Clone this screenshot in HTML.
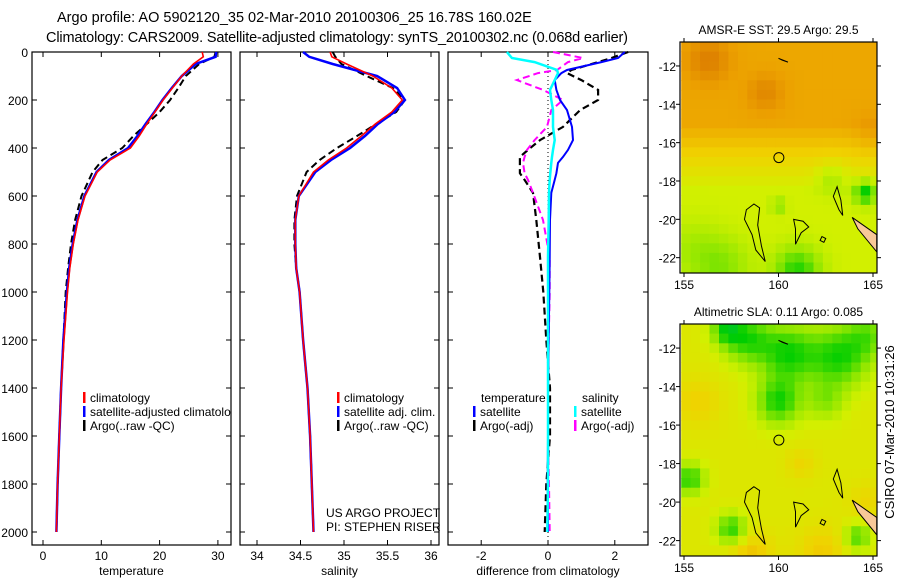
<!DOCTYPE html>
<html><head><meta charset="utf-8">
<style>
html,body{margin:0;padding:0;background:#fff;}
svg{display:block;font-family:"Liberation Sans",sans-serif;}
text{fill:#000;}
</style></head>
<body>
<svg id="fig" width="900" height="580" viewBox="0 0 900 580">
<text x="57" y="22" font-size="14.5">Argo profile: AO 5902120_35 02-Mar-2010 20100306_25 16.78S 160.02E</text>
<text x="46" y="42" font-size="14.5" textLength="582">Climatology: CARS2009. Satellite-adjusted climatology: synTS_20100302.nc (0.068d earlier)</text>
<g id="p1"></g>
<g id="p2"></g>
<g id="p3"></g>
<g id="m1"></g>
<g id="m2"></g>
<text transform="translate(894,432) rotate(-90)" font-size="13" text-anchor="middle">CSIRO 07-Mar-2010 10:31:26</text>
</svg>
<script>
// ---- data ----
const depths = [0,20,50,100,150,200,250,300,350,400,450,500,600,700,800,900,1000,1200,1400,1600,1800,2000];
const tempClim = [27.3,27.5,25.8,23.8,22.2,20.6,19.2,17.8,16.5,15.0,11.5,9.3,7.2,6.0,5.2,4.6,4.2,3.6,3.1,2.8,2.5,2.3];
const tempSat  = [29.7,29.6,26.2,23.8,22.1,20.5,19.1,17.6,16.2,14.6,11.3,9.2,7.1,5.9,5.1,4.5,4.1,3.5,3.1,2.8,2.5,2.3];
const tempArgo = [29.6,29.4,26.8,24.5,23.2,21.8,20.0,17.8,15.5,13.6,10.2,8.5,6.6,5.5,4.8,4.3,3.9,3.5,3.1,2.8,2.5,2.3];
const salClim = [34.84,34.86,35.03,35.33,35.55,35.67,35.55,35.36,35.2,35.03,34.82,34.65,34.48,34.44,34.44,34.45,34.49,34.53,34.58,34.61,34.63,34.65];
const salSat  = [34.53,34.6,34.87,35.38,35.61,35.70,35.58,35.39,35.24,35.07,34.85,34.67,34.48,34.44,34.44,34.45,34.49,34.53,34.58,34.61,34.63,34.65];
const salArgo = [34.87,34.9,34.97,35.26,35.56,35.70,35.6,35.37,35.15,34.92,34.72,34.57,34.46,34.43,34.43,34.45,34.49,34.53,34.58,34.61,34.63,34.65];
const diffDepths = [0,25,42,75,88,117,158,200,242,312,367,408,437,462,505,533,587,700,854,1000,1200,1400,1600,1800,2000];
const dTempSat  = [2.3,2.1,1.6,0.57,0.4,0.2,0.25,0.36,0.57,0.72,0.75,0.6,0.45,0.3,0.25,0.2,0.1,0.06,0.05,0.04,0.02,0.0,0.0,-0.01,0.0];
const dTempArgo = [2.4,1.9,1.5,0.7,0.57,1.0,1.5,1.5,0.96,0.45,-0.24,-0.6,-0.84,-0.84,-0.84,-0.7,-0.45,-0.35,-0.24,-0.14,-0.05,0.06,0.06,-0.05,-0.1];
const dSalSat   = [-1.23,-1.08,-0.4,0.27,0.3,0.2,0.06,0.1,0.15,0.15,0.2,0.15,0.12,0.1,0.07,0.05,0.03,0.02,0.0,0.0,0.0,0.0,0.0,0.0,-0.02];
const dSalArgo  = [0.15,1.05,0.6,0.27,-0.3,-0.93,-0.15,0.45,0.1,-0.03,-0.4,-0.63,-0.7,-0.75,-0.7,-0.6,-0.45,-0.15,0.05,0.05,0.02,0.0,0.0,0.03,0.05];
const depthTicks = [0,200,400,600,800,1000,1200,1400,1600,1800,2000];
const tempTicks = [0,10,20,30];
const salTicks = [34,34.5,35,35.5,36];
const diffTicks = [-2,0,2];
const lonTicks = [155,160,165];
const latTicks = [-12,-14,-16,-18,-20,-22];

const NS="http://www.w3.org/2000/svg";
function el(parent,tag,attrs){const e=document.createElementNS(NS,tag);for(const k in attrs)e.setAttribute(k,attrs[k]);parent.appendChild(e);return e;}
const yD = d => 52 + d*0.24;
const PT=52, PB=545;

function panel(g,x0,x1,xs,ticks,label,xlab,showY){
  const r=el(g,'rect',{x:x0,y:PT,width:x1-x0,height:PB-PT,fill:'#fff',stroke:'#000','stroke-width':1.2});
  
  
  ticks.forEach(t=>{
    const X=xs(t);
    el(g,'line',{x1:X,y1:PB,x2:X,y2:PB-5,stroke:'#000'});
    el(g,'line',{x1:X,y1:PT,x2:X,y2:PT+5,stroke:'#000'});
    const tx=el(g,'text',{x:X,y:PB+15,'font-size':12,'text-anchor':'middle'});tx.textContent=String(t);
    
    
  });
  depthTicks.forEach(d=>{
    el(g,'line',{x1:x0,y1:yD(d),x2:x0+5,y2:yD(d),stroke:'#000'});
    el(g,'line',{x1:x1,y1:yD(d),x2:x1-5,y2:yD(d),stroke:'#000'});
    if(showY){const t=el(g,'text',{x:x0-4,y:yD(d)+5,'font-size':12,'text-anchor':'end'});t.textContent=String(d);
      
      }
  });
  const xl=el(g,'text',{x:(x0+x1)/2,y:575,'font-size':12,'text-anchor':'middle'});xl.textContent=xlab;
  
  
}
function line(g,xs,vals,ds,color,w,dash,name){
  const pts=vals.map((v,i)=>xs(v).toFixed(1)+','+yD(ds[i]).toFixed(1)).join(' ');
  const p=el(g,'polyline',{points:pts,fill:'none',stroke:color,'stroke-width':w});
  if(dash)p.setAttribute('stroke-dasharray',dash);
  
  
}
function legend(g,x,y,color,txt,name){
  el(g,'rect',{x:x,y:y-10,width:2.5,height:11,fill:color});
  const t=el(g,'text',{x:x+7,y:y,'font-size':12});t.textContent=txt;
  
  
}
function txt(g,x,y,s,name,anchor){const t=el(g,'text',{x:x,y:y,'font-size':12,'text-anchor':anchor||'start'});t.textContent=s;
  
  return t;}

// Panel 1
const p1=document.getElementById('p1');
const xT=v=>43+v*5.83;
panel(p1,32,231,xT,tempTicks,'','temperature',true);
line(p1,xT,tempArgo,depths,'#000',2,'7,4','argo-temperature-line');
line(p1,xT,tempSat,depths,'#0000ff',2.5,null,'satellite-temperature-line');
line(p1,xT,tempClim,depths,'#ff0000',1.6,null,'climatology-temperature-line');
legend(p1,83,402,'#ff0000','climatology','legend-climatology');
legend(p1,83,416,'#0000ff','satellite-adjusted climatolo','legend-satellite-adjusted');
legend(p1,83,430,'#000','Argo(..raw -QC)','legend-argo');

// Panel 2
const p2=document.getElementById('p2');
const xS=v=>257+(v-34)*87;
panel(p2,240,439,xS,salTicks,'','salinity',false);
line(p2,xS,salArgo,depths,'#000',2,'7,4','argo-salinity-line');
line(p2,xS,salSat,depths,'#0000ff',2.5,null,'satellite-salinity-line');
line(p2,xS,salClim,depths,'#ff0000',1.6,null,'climatology-salinity-line');
legend(p2,337,402,'#ff0000','climatology','legend-climatology');
legend(p2,337,416,'#0000ff','satellite adj. clim.','legend-satellite-adjusted');
legend(p2,337,430,'#000','Argo(..raw -QC)','legend-argo');
txt(p2,326,517,'US ARGO PROJECT','project-label');
txt(p2,326,531,'PI: STEPHEN RISER','pi-label');

// Panel 3
const p3=document.getElementById('p3');
const xDf=v=>548+v*33.4;
panel(p3,448,648,xDf,diffTicks,'','difference from climatology',false);
el(p3,'line',{x1:548,y1:PT,x2:548,y2:PB,stroke:'#000','stroke-dasharray':'1,3'});
line(p3,xDf,dTempArgo,diffDepths,'#000',2.2,'7,4','argo-temperature-diff-line');
line(p3,xDf,dSalArgo,diffDepths,'#ff00ff',2,'7,4','argo-salinity-diff-line');
line(p3,xDf,dTempSat,diffDepths,'#0000ff',2,null,'satellite-temperature-diff-line');
line(p3,xDf,dSalSat,diffDepths,'#00ffff',2.5,null,'satellite-salinity-diff-line');
txt(p3,481,402,'temperature','legend-temperature-heading');
txt(p3,582,402,'salinity','legend-salinity-heading');
legend(p3,473,416,'#0000ff','satellite','legend-temp-satellite');
legend(p3,473,430,'#000','Argo(-adj)','legend-temp-argo');
legend(p3,574,416,'#00ffff','satellite','legend-sal-satellite');
legend(p3,574,430,'#ff00ff','Argo(-adj)','legend-sal-argo');

// ---- maps ----
function cmap(v){
  v=Math.max(0,Math.min(1,v));
  const stops=[[0,[0,190,110]],[0.2,[0,205,0]],[0.4,[140,230,0]],[0.55,[210,240,0]],[0.7,[240,210,0]],[0.85,[236,160,0]],[1,[208,100,0]]];
  for(let i=1;i<stops.length;i++){if(v<=stops[i][0]){const a=stops[i-1],b=stops[i],t=(v-a[0])/(b[0]-a[0]);
    return 'rgb('+a[1].map((c,k)=>Math.round(c+(b[1][k]-c)*t)).join(',')+')';}}
}
function gauss(lon,lat,c){const dx=lon-c[0],dy=lat-c[1];return c[3]*Math.exp(-(dx*dx+dy*dy)/(c[2]*c[2]));}
const sstBlobs=[[156.3,-11.7,1.2,0.1],[159.3,-13.4,1.0,0.08],[165,-15.5,1,0.05],[164.6,-18.6,0.6,-0.35],[161,-22.7,1.2,-0.3],[157,-22.5,1.5,-0.15],[162.8,-17.8,0.8,-0.12],[155.5,-21.5,1.5,-0.08],[160,-19.3,0.4,-0.15]];
const slaBlobs=[[158.3,-11.5,1.3,-0.33],[160.5,-12.3,1.5,-0.36],[163.2,-12.5,1.6,-0.36],[164.8,-11.3,1.2,-0.22],[160,-14.8,1.2,-0.36],[162.5,-14.8,1.0,-0.18],[157.2,-11.0,0.8,-0.3],[155.7,-14.8,1.2,0.1],[155.3,-18.8,0.8,-0.35],[157.5,-21.4,0.8,-0.35],[164.2,-21.8,0.7,-0.3],[158.5,-22.8,1.2,0.15],[162.3,-22.6,1.3,0.12],[161.2,-18,0.8,0.08],[164.7,-20,1,0.08]];
const sstBase=lat=>{if(lat>-15)return 0.83;if(lat<-18.5)return 0.55;return 0.55+(lat+18.5)/3.5*0.28;};
const slaBase=lat=>0.6;
const LON0=155-0.15, LON1=165.2, LAT0=-10.75, LAT1=-22.8;
function drawMap(gid,top,bot,title,blobs,base){
  const g=document.getElementById(gid);
  const x0=680,x1=877;
  const xs=l=>684+(l-155)*18.9, ys=la=>top+ (LAT0-la)/(LAT0-LAT1)*(bot-top);
  const step=0.5;
  for(let lon=LON0;lon<LON1;lon+=step){for(let lat=LAT0;lat>LAT1;lat-=step){
    let v=base(lat-step/2);blobs.forEach(b=>v+=gauss(lon+step/2,lat-step/2,b));
    const X=Math.max(x0,xs(lon)),Y=ys(lat);
    el(g,'rect',{x:X.toFixed(1),y:Y.toFixed(1),width:(Math.min(x1,xs(lon+step))-X+0.5).toFixed(1),height:(Math.min(bot,ys(lat-step))-Y+0.5).toFixed(1),fill:cmap(v)});
  }}
  const isl=[[[158.7,-19.2],[158.3,-19.5],[158.2,-20.0],[158.6,-20.8],[158.8,-21.6],[159.3,-22.2],[159.1,-21.4],[158.9,-20.3],[159,-19.4]],
    [[160.8,-20.0],[161.3,-20.1],[161.6,-20.4],[161.2,-20.7],[160.9,-21.3],[160.9,-20.5]],
    [[163.1,-18.3],[162.9,-18.8],[163.2,-19.5],[163.4,-19.8],[163.3,-19.0]],
    [[162.3,-20.9],[162.5,-21.0],[162.4,-21.2],[162.2,-21.1]],
    [[160.0,-11.6],[160.5,-11.8],[160.2,-11.7]]];
  isl.forEach(p=>{const s=el(g,'polygon',{points:p.map(q=>xs(q[0])+','+ys(q[1])).join(' '),fill:'none',stroke:'#000','stroke-width':1});
    
    });
  const nc=el(g,'polygon',{points:[[163.9,-19.9],[165.2,-20.8],[165.2,-21.7],[164.2,-20.5]].map(q=>xs(q[0])+','+ys(q[1])).join(' '),fill:'#f8c898',stroke:'#000','stroke-width':1});
  
  
  const c=el(g,'circle',{cx:xs(160.02),cy:ys(-16.78),r:5,fill:'none',stroke:'#000','stroke-width':1});
  
  
  el(g,'rect',{x:x0,y:top,width:x1-x0,height:bot-top,fill:'none',stroke:'#000','stroke-width':1.2});
  lonTicks.forEach(l=>{el(g,'line',{x1:xs(l),y1:bot,x2:xs(l),y2:bot+4,stroke:'#000'});el(g,'line',{x1:xs(l),y1:top,x2:xs(l),y2:top-4,stroke:'#000'});
    txt(g,xs(l),bot+16,String(l),'lon-tick-label','middle');});
  latTicks.forEach(la=>{el(g,'line',{x1:x0,y1:ys(la),x2:x0-4,y2:ys(la),stroke:'#000'});el(g,'line',{x1:x1,y1:ys(la),x2:x1+4,y2:ys(la),stroke:'#000'});
    txt(g,x0-4,ys(la)+5,String(la),'lat-tick-label','end');});
  txt(g,(x0+x1)/2,top-8,title,'map-title','middle');
}
drawMap('m1',42,273,'AMSR-E SST: 29.5 Argo: 29.5',sstBlobs,sstBase);
drawMap('m2',324,556,'Altimetric SLA: 0.11 Argo: 0.085',slaBlobs,slaBase);
</script>
</body></html>
